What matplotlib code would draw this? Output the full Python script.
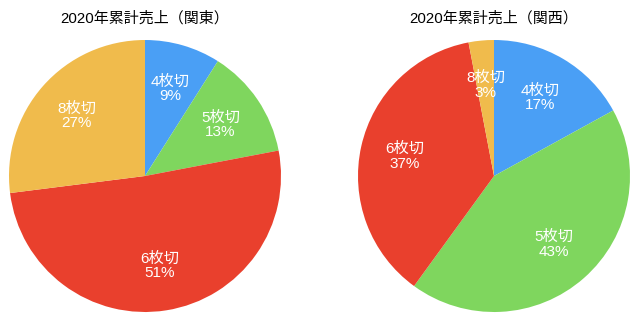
import matplotlib
matplotlib.use("Agg")
import matplotlib.pyplot as plt

# latin digits from Liberation Sans, kanji fall back to Noto CJK
plt.rcParams['font.family'] = ['Liberation Sans', 'Noto Sans CJK JP', 'DejaVu Sans']

# slice names and shares (percent) for each region
names = ["4枚切", "5枚切", "6枚切", "8枚切"]
kanto = [9, 13, 51, 27]
kansai = [17, 43, 37, 3]
titles = ["2020年累計売上（関東）", "2020年累計売上（関西）"]
colors = ["#4A9FF5", "#7FD65E", "#E9402D", "#F0BB4C"]

fig = plt.figure(figsize=(6.4, 3.27), dpi=100)
W, H = 640, 327
r = 136
centers = [(145, 176), (494, 176)]

for (cx, cy), vals, title in zip(centers, [kanto, kansai], titles):
    ax = fig.add_axes([(cx - r) / W, (H - cy - r) / H, 2 * r / W, 2 * r / H])
    wedges, _, autotexts = ax.pie(vals, colors=colors, startangle=90, counterclock=False,
                                  autopct='', pctdistance=0.67,
                                  wedgeprops=dict(linewidth=0))
    for t, name, v in zip(autotexts, names, vals):
        t.set_text(f"{name}\n{v}%")
        t.set_color("white")
        t.set_fontsize(11)
        t.set_linespacing(1.05)
    ax.set_xlim(-1, 1)
    ax.set_ylim(-1, 1)
    ax.set_aspect('equal')
    fig.text(cx / W, 1 - 18 / H, title, ha='center', va='center', fontsize=10.8)

fig.savefig("out.png", dpi=100)
